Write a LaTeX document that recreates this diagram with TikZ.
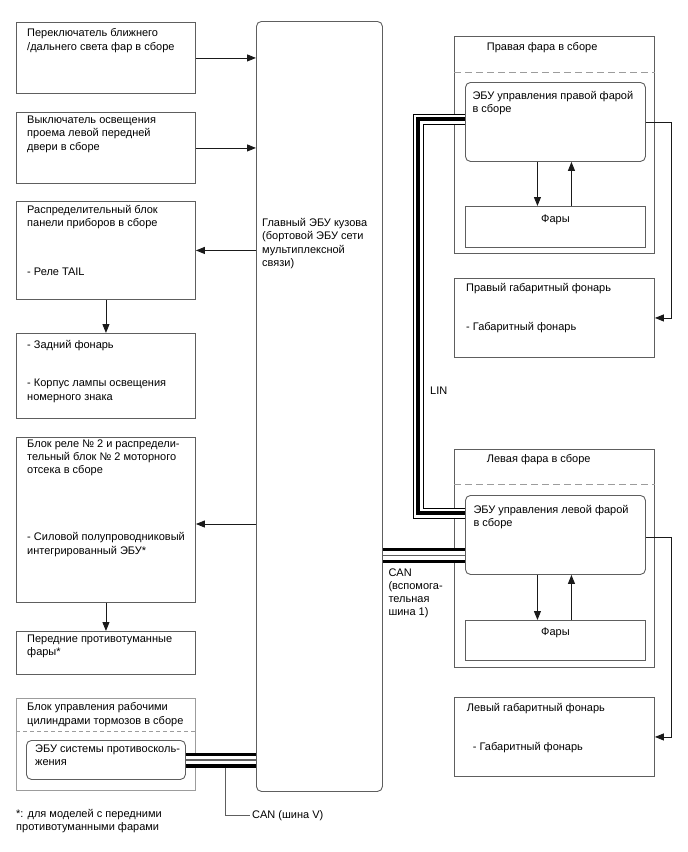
\documentclass[tikz,border=0pt]{standalone}
\usepackage{fontspec}
\setmainfont{Liberation Sans}
\usepackage{xcolor}
\definecolor{cLine}{HTML}{5E5E5E}
\definecolor{cLight}{HTML}{9C9C9C}
\definecolor{cArrow}{HTML}{1A1A1A}
\usepackage{tikz}
\usetikzlibrary{positioning,arrows.meta,calc}
\tikzset{
  node-box/.style={draw=cLine,line width=0.9pt,anchor=north west,inner sep=0pt},
  node-round/.style={node-box,rounded corners=5pt},
  node-left/.style={node-box,minimum width=179},
  node-right/.style={node-box,minimum width=200},
  node-text/.style={anchor=north west,inner sep=0pt,align=left,
    font=\fontsize{11}{13.3}\selectfont,
    execute at begin node={\rule{0pt}{9.5pt}}},
  arrow/.style={-{Triangle[length=9pt,width=7pt]},line width=0.9pt,draw=cArrow},
  wire/.style={line width=0.9pt,draw=cLine},
  sep-dash/.style={line width=0.9pt,draw=cLight,dash pattern=on 7pt off 4pt},
  % шины: LIN = тонкая/толстая/тонкая, CAN = толстая/тонкая/толстая
  bus-lin/.style={line width=11pt,draw=black,line join=miter,
    postaction={draw=white,line width=9pt},
    postaction={draw=black,line width=4pt}},
  bus-can/.style={line width=15pt,draw=black,
    postaction={draw=white,line width=8.4pt},
    postaction={draw=cLine,line width=1.1pt}},
}

\begin{document}
\begin{tikzpicture}[x=1pt,y=1pt]
  \useasboundingbox (0,0) rectangle (688,-852);

  % левая колонка
  \node[node-left,minimum height=71]  (lightsw) at (16,-22)  {};
  \node[node-left,minimum height=71]  (doorsw)  at (16,-112) {};
  \node[node-left,minimum height=98]  (ipjb)    at (16,-201) {};
  \node[node-left,minimum height=85]  (tail)    at (16,-333) {};
  \node[node-left,minimum height=165] (ejb)     at (16,-437) {};
  \node[node-left,minimum height=43]  (fog)     at (16,-631) {};
  \node[node-left,minimum height=92,draw=cLight] (brake) at (16,-698) {};
  \node[node-round,minimum width=159,minimum height=39] (brkecu) at (26,-740) {};
  \draw[sep-dash,dash pattern=on 4pt off 3pt] (brake.west |- 0,-731) -- (brake.east |- 0,-731);

  % главный ЭБУ
  \node[node-round,minimum width=126,minimum height=770] (main) at (256,-21) {};

  % правая фара
  \node[node-right,minimum height=217] (rh)     at (454,-36)  {};
  \node[node-round,minimum width=180,minimum height=79] (rhecu)  at (465,-82)  {};
  \node[node-box,minimum width=180,minimum height=41]   (rhlamp) at (465,-206) {};
  \node[node-right,minimum height=79]  (rmark)  at (454,-278) {};
  \draw[sep-dash] (rh.west |- 0,-72) -- (rh.east |- 0,-72);

  % левая фара
  \node[node-right,minimum height=218] (lh)     at (454,-449) {};
  \node[node-round,minimum width=180,minimum height=79] (lhecu)  at (465,-495) {};
  \node[node-box,minimum width=180,minimum height=40]   (lhlamp) at (465,-620) {};
  \node[node-right,minimum height=79]  (lmark)  at (454,-697) {};
  \draw[sep-dash] (lh.west |- 0,-484) -- (lh.east |- 0,-484);

  % тексты
  \node[node-text] at (27,-28.5)   {Переключатель ближнего\\/дальнего света фар в сборе};
  \node[node-text] at (27,-115.9)  {Выключатель освещения\\проема левой передней\\двери в сборе};
  \node[node-text] at (27,-204.9)  {Распределительный блок\\панели приборов в сборе\\[36pt]- Реле TAIL};
  \node[node-text] at (27,-339.9)  {- Задний фонарь\\[25.3pt]- Корпус лампы освещения\\номерного знака};
  \node[node-text] at (27,-439.2)  {Блок реле № 2 и распредели-\\тельный блок № 2 моторного\\отсека в сборе\\[54pt]- Силовой полупроводниковый\\интегрированный ЭБУ*};
  \node[node-text] at (27,-634.5)  {Передние противотуманные\\фары*};
  \node[node-text] at (27,-702.5)  {Блок управления рабочими\\цилиндрами тормозов в сборе};
  \node[node-text] at (35,-744.2)  {ЭБУ системы противосколь-\\жения};
  \node[node-text] at (262,-218.2) {Главный ЭБУ кузова\\(бортовой ЭБУ сети\\мультиплексной\\связи)};
  \node[node-text] at (486.7,-40.9)  {Правая фара в сборе};
  \node[node-text] at (472.3,-90.9)  {ЭБУ управления правой фарой\\в сборе};
  \node[node-text,anchor=base,execute at begin node={}] at (rhlamp.north |- 0,-222) {Фары};
  \node[node-text] at (466,-282.9)   {Правый габаритный фонарь\\[26pt]- Габаритный фонарь};
  \node[node-text] at (430,-384.9)   {LIN};
  \node[node-text] at (486.7,-453.2) {Левая фара в сборе};
  \node[node-text] at (473.3,-504.9) {ЭБУ управления левой фарой\\в сборе};
  \node[node-text,anchor=base,execute at begin node={}] at (lhlamp.north |- 0,-635.4) {Фары};
  \node[node-text] at (466.7,-703.2) {Левый габаритный фонарь\\[26pt]\hspace*{6pt}- Габаритный фонарь};
  \node[node-text] at (388.3,-568.2) {CAN\\(вспомога-\\тельная\\шина 1)};
  \node[node-text] at (16,-809.2)    {*: для моделей с передними\\противотуманными фарами};
  \node[node-text,anchor=west,inner sep=2pt,execute at begin node={}] (canvlbl) at (250,-815) {CAN (шина V)};

  % связи
  \draw[arrow] (lightsw.east) -- (main.west |- lightsw.east);
  \draw[arrow] (doorsw.east) -- (main.west |- doorsw.east);
  \draw[arrow] (main.west |- ipjb.east) -- (ipjb.east);
  \draw[arrow] (main.west |- 0,-524) -- (ejb.east |- 0,-524);
  \draw[arrow] (ipjb.south) -- (tail.north);
  \draw[arrow] (ejb.south) -- (fog.north);

  \draw[arrow] ([xshift=-18]rhecu.south) -- ([xshift=-18]rhlamp.north);
  \draw[arrow] ([xshift=16]rhlamp.north) -- ([xshift=16]rhecu.south);
  \draw[arrow] ([xshift=-18]lhecu.south) -- ([xshift=-18]lhlamp.north);
  \draw[arrow] ([xshift=16]lhlamp.north) -- ([xshift=16]lhecu.south);
  \draw[arrow] (rhecu.east) -- ++(26,0) |- (rmark.east);
  \draw[arrow] ([yshift=-2.5]lhecu.east) -- ++(26,0) |- (lmark.east);

  % шины
  \coordinate (lin1) at (418,-119);
  \coordinate (lin2) at (418,-513);
  \draw[bus-lin] (rhecu.west |- lin1) -- (lin1) -- (lin2) -- (lhecu.west |- lin2);
  \draw[bus-can] (main.east |- 0,-555.5) -- (lhecu.west |- 0,-555.5);
  \draw[bus-can] (brkecu.east |- 0,-760) -- (main.west |- 0,-760);
  \coordinate (canv) at (225,-767.5);
  \draw[wire] (canv) |- (canvlbl.west);
\end{tikzpicture}
\end{document}
